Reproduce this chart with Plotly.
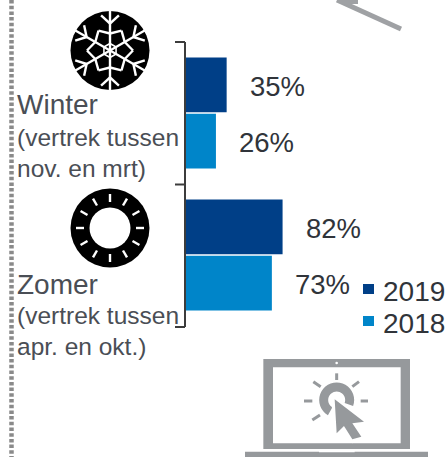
import math
import plotly.graph_objects as go

seasons = ["Winter", "Zomer"]
years = ["2019", "2018"]
values_2019 = [35, 82]
values_2018 = [26, 73]
labels_2019 = ["35%", "82%"]
labels_2018 = ["26%", "73%"]
color_2019 = "#003f87"
color_2018 = "#0085c9"
text_color = "#4a4e55"
W, H = 447, 457
PX_PER_UNIT = 1.19
AX_X = 185

def xp(p): return p / W
def yp(p): return 1 - p / H

fig = go.Figure()
for year, vals, color in [(years[0], values_2019, color_2019), (years[1], values_2018, color_2018)]:
    fig.add_bar(y=seasons, x=vals, name=year, orientation="h", marker_color=color, marker_line_width=0, hoverinfo="skip")

shapes = []
def line(x0, y0, x1, y1, color, width, dash=None):
    shapes.append(dict(type="line", xref="paper", yref="paper", x0=xp(x0), y0=yp(y0), x1=xp(x1), y1=yp(y1),
                       line=dict(color=color, width=width, dash=dash or "solid"), layer="above"))
def circle(cx, cy, r, fill):
    shapes.append(dict(type="circle", xref="paper", yref="paper", x0=xp(cx-r), x1=xp(cx+r), y0=yp(cy+r), y1=yp(cy-r),
                       fillcolor=fill, line_width=0, layer="above"))
def rect(x0, y0, x1, y1, fill):
    shapes.append(dict(type="rect", xref="paper", yref="paper", x0=xp(x0), x1=xp(x1), y0=yp(y1), y1=yp(y0),
                       fillcolor=fill, line_width=0, layer="above"))
def poly(pts, fill):
    d = "M" + "L".join(f"{xp(x):.5f},{yp(y):.5f}" for x, y in pts) + "Z"
    shapes.append(dict(type="path", xref="paper", yref="paper", path=d, fillcolor=fill, line_width=0, layer="above"))

# dotted border
line(11.5, 0, 11.5, H, "#8a8a8a", 4.5, dash="3.5px,2.2px")
# bracket
bk = "#3c3c3c"
line(185, 42, 185, 327, bk, 2)
line(175, 42, 185, 42, bk, 2)
line(175, 184.5, 185, 184.5, bk, 2)
line(175, 327, 185, 327, bk, 2)

# snowflake
sx, sy = 110, 50.5
white = "#ffffff"
circle(sx, sy, 39.5, "#000000")
def pol(r, deg):
    a = math.radians(deg)
    return sx + r * math.cos(a), sy - r * math.sin(a)
for k in range(6):
    deg = 90 + 60 * k
    p = pol(40, deg)
    line(sx, sy, p[0], p[1], white, 2.4)
    base = pol(27, deg)
    for sgn in (-1, 1):
        a = math.radians(deg + sgn * 48)
        line(base[0], base[1], base[0] + 12*math.cos(a), base[1] - 12*math.sin(a), white, 2.4)
        # hexagram outline: arm vertex to tip between arms
        v = pol(17, deg)
        t = pol(23, deg + sgn * 30)
        line(v[0], v[1], t[0], t[1], white, 2.4)
    h0, h1 = pol(7, deg), pol(7, deg + 60)
    line(h0[0], h0[1], h1[0], h1[1], white, 1.6)

# tyre
tx, ty = 110, 228
circle(tx, ty, 39.5, "#000000")
circle(tx, ty, 20.5, white)
for k in range(12):
    a = math.radians(30 * k)
    line(tx + 26*math.cos(a), ty - 26*math.sin(a), tx + 34*math.cos(a), ty - 34*math.sin(a), white, 2.4)

# laptop
grey = "#96999c"
def zx(v): return v / 3 + 224
def zy(v): return v / 3 + 340
rect(zx(118), zy(57), zx(558), zy(327), grey)
rect(zx(147), zy(82), zx(530), zy(310), white)
circle(zx(338), zy(69), 1.3, white)
rect(zx(63), zy(335), zx(612), zy(352), grey)
rect(zx(285), zy(332), zx(392), zy(337), white)
for a0, a1, b0, b1 in [(338,100,338,120),(385,140,405,125),(410,183,432,183),(240,183,265,183),
                       (268,125,290,140),(265,240,288,225)]:
    line(zx(a0), zy(a1), zx(b0), zy(b1), grey, 3)
cx0, cy0 = zx(338), zy(180)
angles = list(range(-20, 241, 10))
outer = [(cx0 + 17.5*math.cos(math.radians(t)), cy0 - 17.5*math.sin(math.radians(t))) for t in angles]
inner = [(cx0 + 8.5*math.cos(math.radians(t)), cy0 - 8.5*math.sin(math.radians(t))) for t in reversed(angles)]
poly(outer + inner, grey)
poly([(zx(322),zy(165)),(zx(430),zy(245)),(zx(395),zy(255)),(zx(425),zy(295)),(zx(385),zy(310)),(zx(358),zy(268)),(zx(328),zy(295))], white)
poly([(zx(332),zy(178)),(zx(420),zy(245)),(zx(385),zy(250)),(zx(412),zy(290)),(zx(385),zy(298)),(zx(360),zy(258)),(zx(338),zy(280))], grey)

# top-right diagonal stroke
line(337, 0, 401, 29, "#9fa1a4", 5)
rect(340, 0, 358, 4, "#9fa1a4")

# data labels
ann = []
GROUP_OFF = 0.2
for i in range(2):
    for vals, labs, off in [(values_2019, labels_2019, -GROUP_OFF), (values_2018, labels_2018, GROUP_OFF)]:
        ann.append(dict(x=vals[i], y=i + off, xref="x", yref="y", text=labs[i], showarrow=False,
                        xanchor="left", yanchor="middle", xshift=21.5, yshift=-1.5, font=dict(size=27.5, color="#30343a")))

# category texts
def txt(x, y, t, size=26, color=text_color):
    ann.append(dict(x=xp(x), y=yp(y), xref="paper", yref="paper", text=t, showarrow=False, xanchor="left",
                    yanchor="middle", align="left", font=dict(size=size, color=color)))
txt(15, 105, seasons[0], 28)
txt(15, 137, "(vertrek tussen", 24.5)
txt(15, 168, "nov. en mrt)", 24.5)
txt(15, 284, seasons[1], 28)
txt(15, 315, "(vertrek tussen", 24.5)
txt(15, 346, "apr. en okt.)", 24.5)

# legend
rect(363, 284, 374, 294, color_2019)
rect(363, 316, 374, 326, color_2018)
txt(381, 291, years[0], 28, "#30343a")
txt(381, 323, years[1], 28, "#30343a")

x_left = -AX_X / PX_PER_UNIT
x_right = (W - AX_X) / PX_PER_UNIT
cat_px = 142
center0 = 113
fig.update_layout(
    width=W, height=H, margin=dict(l=0, r=0, t=0, b=0), paper_bgcolor="#ffffff", plot_bgcolor="#ffffff",
    barmode="group", bargap=0.205, bargroupgap=0.03,
    font=dict(family="Liberation Sans, Arial, sans-serif"),
    xaxis=dict(range=[x_left, x_right], visible=False, fixedrange=True),
    yaxis=dict(type="category", categoryorder="array", categoryarray=seasons,
               range=[(H - center0) / cat_px, -center0 / cat_px], visible=False, fixedrange=True),
    shapes=shapes, annotations=ann, showlegend=False,
)
fig.write_html("out.html", config=dict(displayModeBar=False), post_script="document.body.style.margin='0';")
